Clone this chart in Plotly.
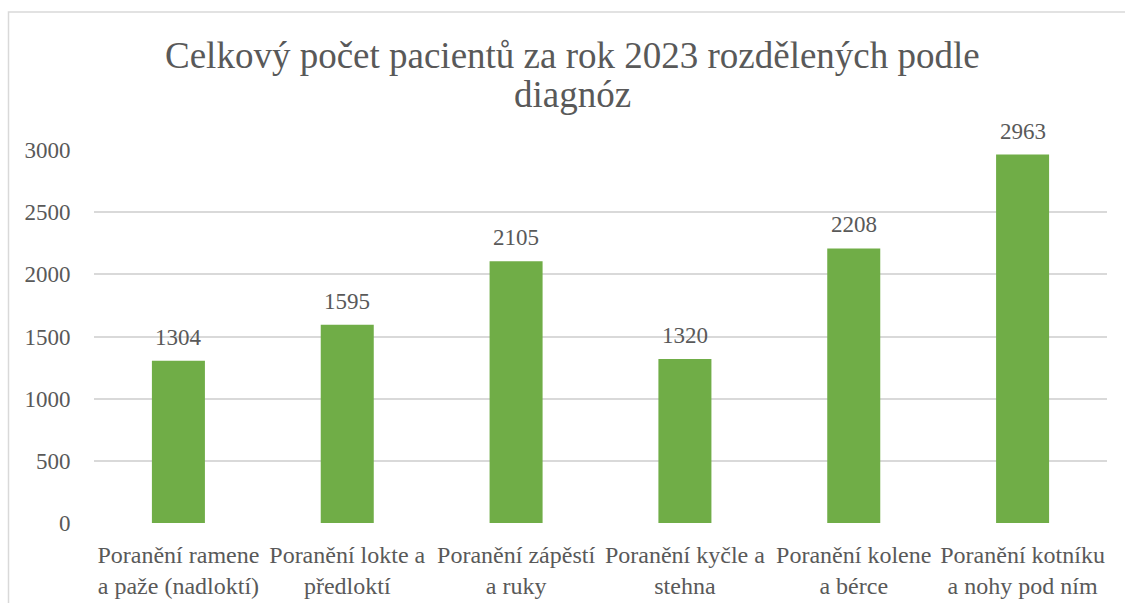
import plotly.graph_objects as go

# Data
categories = [
    "Poranění ramene<br>a paže (nadloktí)",
    "Poranění lokte a<br>předloktí",
    "Poranění zápěstí<br>a ruky",
    "Poranění kyčle a<br>stehna",
    "Poranění kolene<br>a bérce",
    "Poranění kotníku<br>a nohy pod ním",
]
patients = [1304, 1595, 2105, 1320, 2208, 2963]
title_lines = ["Celkový počet pacientů za rok 2023 rozdělených podle", "diagnóz"]

FONT = "'Liberation Serif', 'Times New Roman', serif"
GREY = "#595959"

fig = go.Figure(
    go.Bar(
        x=categories,
        y=patients,
        marker=dict(color="#70AD47", line=dict(width=0)),
        hoverinfo="skip",
    )
)

# data labels above bars
for cat, val in zip(categories, patients):
    fig.add_annotation(
        x=cat, y=val, text=str(val), showarrow=False,
        yanchor="bottom", yshift=9,
        font=dict(family=FONT, size=23, color=GREY),
    )

# two-line title with tight line spacing
for txt, ypos in zip(title_lines, [1.2527, 1.148]):
    fig.add_annotation(
        xref="paper", yref="paper", x=0.4719, y=ypos, text=txt,
        showarrow=False, xanchor="center", yanchor="middle",
        font=dict(family=FONT, size=37, color=GREY),
    )

# outer chart frame
fig.add_shape(
    type="rect", xref="paper", yref="paper",
    x0=-0.0844, x1=1.03, y0=-0.25, y1=1.3703,
    line=dict(color="#D9D9D9", width=1.5), layer="below",
)

fig.update_layout(
    width=1125,
    height=603,
    margin=dict(l=94, r=18, t=149.5, b=79.5),
    paper_bgcolor="white",
    plot_bgcolor="white",
    bargap=0.686,
    showlegend=False,
    font=dict(family=FONT, color=GREY),
    xaxis=dict(
        showgrid=False, showline=False, zeroline=False, automargin=False,
        ticks="outside", ticklen=10, tickcolor="rgba(0,0,0,0)",
        tickfont=dict(family=FONT, size=24, color=GREY),
    ),
    yaxis=dict(
        range=[0, 3000], dtick=500, showline=False, zeroline=False, automargin=False,
        gridcolor="#D9D9D9", gridwidth=1.5,
        ticks="outside", ticklen=18, tickcolor="rgba(0,0,0,0)",
        tickfont=dict(family=FONT, size=23, color=GREY),
    ),
)

# drop the default page margin so the figure sits at the window corner
fig.write_html(
    "out.html",
    config={"displayModeBar": False},
    post_script="document.body.style.margin='0';",
)
